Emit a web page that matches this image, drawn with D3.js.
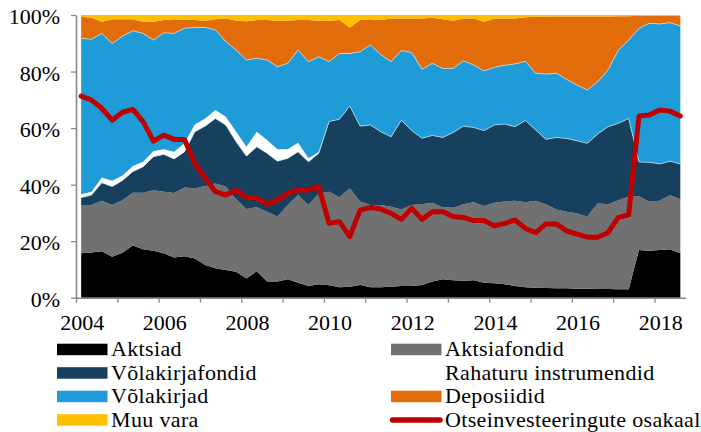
<!DOCTYPE html>
<html>
<head>
<meta charset="utf-8">
<script src="https://cdn.jsdelivr.net/npm/d3@7"></script>
<style>
  body { margin: 0; background: #fff; }
  svg text { font-family: "Liberation Serif", "DejaVu Serif", serif; fill: #000; }
</style>
</head>
<body>
<div id="chart"></div>
<script>
// quarterly data, 2004Q1 .. 2018Q3
const years = [2004, 2005, 2006, 2007, 2008, 2009, 2010, 2011, 2012, 2013, 2014, 2015, 2016, 2017, 2018];
const yearLabels = ["2004", "2006", "2008", "2010", "2012", "2014", "2016", "2018"];

const aktsiad = [15.7,16.0,16.4,14.5,15.9,18.5,17.1,16.6,15.7,14.2,14.7,13.9,11.6,10.4,9.8,9.2,6.8,9.4,5.7,5.7,
  6.5,5.3,4.1,4.8,4.4,3.7,3.9,4.5,3.7,3.7,3.9,4.1,4.1,4.5,5.7,6.5,6.2,6.0,6.2,5.3,
  5.1,4.8,4.1,3.7,3.5,3.4,3.3,3.3,3.2,3.2,3.1,3.1,3.0,3.0,16.9,16.6,16.9,17.1,15.7];
const aktsiafondid = [17.1,16.8,17.9,18.3,18.6,18.6,20.0,21.4,21.8,22.8,24.3,24.8,27.9,30.0,29.5,25.6,24.6,22.6,24.7,23.0,
  26.3,31.0,28.7,32.1,33.1,31.8,34.8,29.5,29.1,29.1,28.3,27.1,28.7,28.6,27.9,25.5,25.6,27.1,27.6,27.1,
  28.5,29.2,30.2,30.1,30.8,29.7,27.9,27.1,26.6,25.5,30.3,30.0,31.5,32.7,19.0,17.3,17.4,19.1,19.1];
const volakirjafondid = [2.6,3.5,6.4,6.5,7.0,7.5,9.2,11.9,13.2,12.1,12.6,20.0,21.2,23.0,21.8,20.4,18.7,21.4,20.7,19.6,
  16.5,15.3,15.3,14.2,24.8,27.6,29.1,26.7,28.3,25.9,24.7,31.6,26.3,23.3,23.8,24.7,26.6,27.6,26.4,26.7,
  27.5,27.4,26.2,28.9,25.0,22.9,25.5,25.9,25.7,25.9,24.5,27.4,27.2,27.7,12.1,14.0,13.0,12.1,12.5];
const rahaturu = [1.2,1.2,1.8,2.1,1.7,2.0,1.8,2.0,1.8,2.5,3.0,2.6,2.7,3.0,2.9,3.5,3.3,5.3,4.7,4.2,
  3.2,3.2,1.2,0.4,0,0,0,0,0,0,0,0,0,0,0,0,0,0,0,0,
  0,0,0,0,0,0,0,0,0,0,0,0,0,0,0,0,0,0,0];
const volakirjad = [55.2,53.9,51.0,48.5,49.3,47.8,45.4,39.2,41.2,41.9,40.7,34.3,32.2,28.3,26.6,28.9,30.7,26.0,28.3,29.2,
  30.4,32.8,34.2,33.7,21.2,23.3,18.6,26.3,28.3,27.3,26.6,24.6,27.6,24.4,25.5,24.4,22.7,23.1,22.1,21.1,
  20.4,20.8,22.2,20.9,20.1,23.1,22.7,20.9,19.7,18.9,18.5,20.0,25.9,27.7,47.3,49.2,49.5,49.0,48.8];
const deposiidid = [7.6,7.6,4.1,8.6,6.0,4.1,4.1,6.5,4.5,5.0,2.9,2.6,2.4,3.8,8.2,10.4,13.7,13.5,14.1,16.3,
  15.1,10.6,14.7,12.8,14.5,11.8,9.2,11.2,9.1,12.2,15.3,11.4,12.1,18.0,16.1,17.4,16.9,15.0,16.5,17.4,
  17.3,16.6,16.1,15.6,20.0,20.3,20.1,22.3,24.3,26.0,23.1,19.0,12.0,8.5,4.4,2.6,2.9,2.4,3.6];
const muuVara = [0.6,1.0,2.4,1.5,1.5,1.5,2.4,2.4,1.8,1.5,1.8,1.8,2.0,1.5,1.2,2.0,2.2,1.8,1.8,2.0,
  2.0,1.8,1.8,2.0,2.0,1.8,4.4,1.8,1.5,1.8,1.2,1.2,1.2,1.2,1.0,1.5,2.0,1.2,1.2,2.4,
  1.2,1.2,1.2,0.8,0.6,0.6,0.5,0.5,0.5,0.5,0.5,0.5,0.4,0.4,0.3,0.3,0.3,0.3,0.3];
const otseinvesteeringud = [71.3,69.9,67.0,62.8,65.6,66.6,62.3,55.4,57.5,56.0,56.0,47.5,42.3,37.5,36.3,38.1,35.4,35.2,33.0,34.5,
  36.9,38.1,38.1,39.3,26.3,26.9,21.6,31.0,31.9,31.4,29.8,27.7,31.6,27.7,30.4,30.4,28.7,28.4,27.3,27.3,
  25.4,26.3,27.5,24.5,23.0,26.1,26.1,23.6,22.5,21.4,21.4,23.0,28.4,29.3,64.3,64.6,66.4,66.0,64.3];

const quarters = [];
years.forEach(y => [1, 2, 3, 4].forEach(q => quarters.push(y + "Q" + q)));
quarters.length = aktsiad.length;

const series = [
  {name: "Aktsiad", values: aktsiad, color: "#000000"},
  {name: "Aktsiafondid", values: aktsiafondid, color: "#717171"},
  {name: "Võlakirjafondid", values: volakirjafondid, color: "#173f5e"},
  {name: "Rahaturu instrumendid", values: rahaturu, color: "#ffffff"},
  {name: "Võlakirjad", values: volakirjad, color: "#1f9bd7"},
  {name: "Deposiidid", values: deposiidid, color: "#e36c0a"},
  {name: "Muu vara", values: muuVara, color: "#ffc000"}
];

const rows = quarters.map((q, i) => {
  const r = {q: q, i: i};
  series.forEach(s => r[s.name] = s.values[i]);
  return r;
});

const W = 701, H = 432;
const svg = d3.select("#chart").append("svg")
  .attr("width", W).attr("height", H);

// x: one band per quarter
const xi = d3.scaleLinear().domain([0, quarters.length]).range([76, 685.5]);
const y = d3.scaleLinear().domain([0, 1]).range([297.7, 15]);

const stacked = d3.stack()
  .keys(series.map(s => s.name))
  .offset(d3.stackOffsetExpand)(rows);

const area = d3.area()
  .x(d => xi(d.data.i + 0.5))
  .y0(d => y(d[0]))
  .y1(d => y(d[1]));

svg.append("g").selectAll("path")
  .data(stacked)
  .join("path")
  .attr("d", area)
  .attr("fill", (d, k) => series[k].color);

// thin light edges around the Võlakirjad band
const edge = d3.line().x(d => xi(d.data.i + 0.5)).y(d => y(d[1]));
[2, 4].forEach(k => {
  svg.append("path")
    .attr("d", edge(stacked[k]))
    .attr("fill", "none")
    .attr("stroke", "#cde6f3")
    .attr("stroke-width", 0.7);
});

// red line
const line = d3.line()
  .x((d, i) => xi(i + 0.5))
  .y(d => y(d / 100));

svg.append("path")
  .attr("d", line(otseinvesteeringud))
  .attr("fill", "none")
  .attr("stroke", "#c00000")
  .attr("stroke-width", 5)
  .attr("stroke-linejoin", "round")
  .attr("stroke-linecap", "round");

// axes
const yAxis = svg.append("g")
  .attr("transform", "translate(76,0)")
  .call(d3.axisLeft(y).tickValues([0, 0.2, 0.4, 0.6, 0.8, 1]).tickFormat(d3.format(".0%")).tickSize(5).tickSizeOuter(0).tickPadding(11));

const xAxis = svg.append("g")
  .attr("transform", "translate(0,297.7)")
  .call(d3.axisBottom(xi).tickValues(d3.range(0, quarters.length, 4)).tickFormat("").tickSize(5).tickSizeOuter(0));

[yAxis, xAxis].forEach(g => {
  g.select(".domain").attr("stroke", "#888").attr("stroke-width", 1.6);
  g.selectAll(".tick line").attr("stroke", "#888").attr("stroke-width", 1.3);
});
yAxis.selectAll("text")
  .attr("dy", "0.4em")
  .style("font-size", "22px")
  .style("font-family", "Liberation Serif");

svg.append("g").selectAll("text")
  .data(yearLabels)
  .join("text")
  .attr("x", d => xi(quarters.indexOf(d + "Q1") + 0.5) + 1)
  .attr("y", 330)
  .attr("text-anchor", "middle")
  .style("font-size", "22px")
  .text(d => d);

// legend
const legendItems = [
  {name: "Aktsiad", color: "#000000", col: 0, row: 0},
  {name: "Aktsiafondid", color: "#717171", col: 1, row: 0},
  {name: "Võlakirjafondid", color: "#173f5e", col: 0, row: 1},
  {name: "Rahaturu instrumendid", color: "#ffffff", col: 1, row: 1},
  {name: "Võlakirjad", color: "#1f9bd7", col: 0, row: 2},
  {name: "Deposiidid", color: "#e36c0a", col: 1, row: 2},
  {name: "Muu vara", color: "#ffc000", col: 0, row: 3},
  {name: "Otseinvesteeringute osakaal", color: "#c00000", col: 1, row: 3, line: true}
];
const colX = [57, 391];
const lg = svg.append("g").selectAll("g")
  .data(legendItems)
  .join("g")
  .attr("transform", d => `translate(${colX[d.col]},${349.5 + d.row * 23.5})`);

lg.filter(d => !d.line).append("rect")
  .attr("x", 0).attr("y", -5.8).attr("width", 50.5).attr("height", 11.5)
  .attr("fill", d => d.color);
lg.filter(d => d.line).append("line")
  .attr("x1", 1.5).attr("x2", 49).attr("y1", 0).attr("y2", 0)
  .attr("stroke", d => d.color).attr("stroke-width", 5.5).attr("stroke-linecap", "round");
lg.append("text")
  .attr("x", 54)
  .attr("y", 6.5)
  .style("font-size", "22px")
  .style("letter-spacing", "0.35px")
  .text(d => d.name);
</script>
</body>
</html>
